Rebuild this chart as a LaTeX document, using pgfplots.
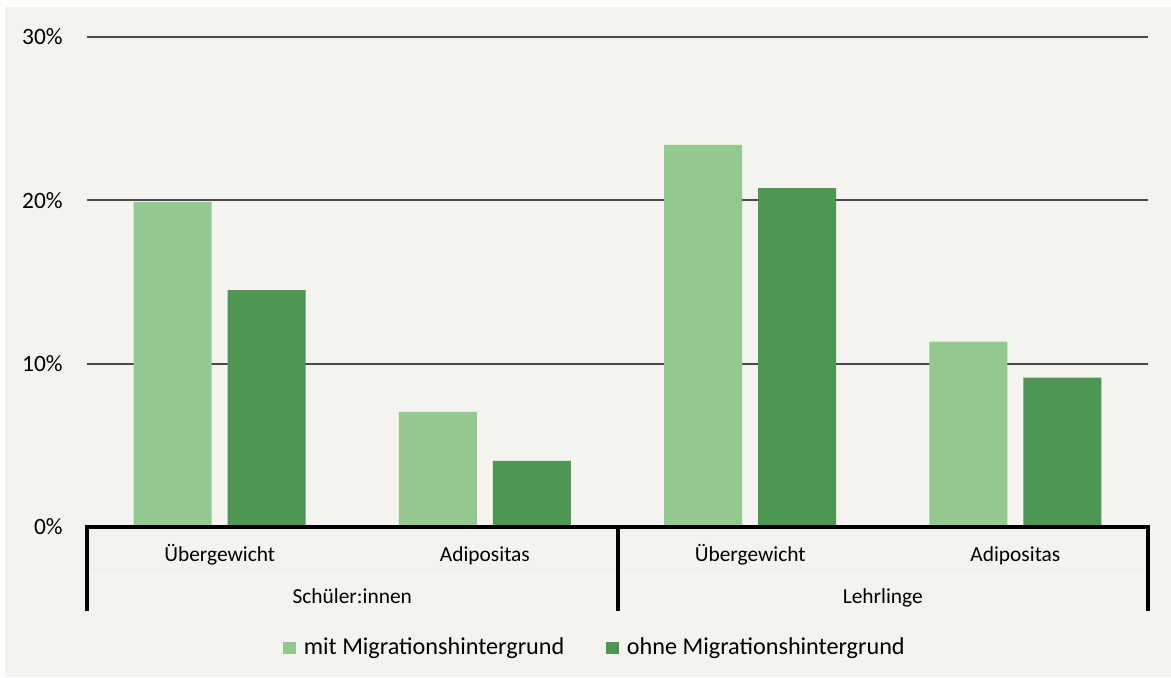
\documentclass[border=0pt]{standalone}
\usepackage{pgfplots}
\pgfplotsset{compat=1.18}
\usepackage{fontspec}
\setmainfont{Carlito}

\definecolor{bg}{HTML}{F4F3EF}
\definecolor{hell}{HTML}{93C98E}
\definecolor{dunkel}{HTML}{4E9753}
\definecolor{gitter}{HTML}{4A4A4A}

\tikzset{lab/.style={anchor=base, font=\fontsize{10.7}{12}\selectfont, inner sep=0pt}}

\begin{document}
\begin{tikzpicture}
  % 1 px = 0.5 pt
  \useasboundingbox (0,0) rectangle (585.5pt,339pt);
  \fill[white] (0,0) rectangle (585.5pt,339pt);
  \fill[bg] (2.5pt,0.5pt) rectangle (585.5pt,335.5pt);

  \begin{axis}[
      at={(43.5pt,75.5pt)}, anchor=south west,
      scale only axis, width=530.5pt, height=245pt,
      xmin=0, xmax=4, ymin=0, ymax=30,
      axis line style={draw=none},
      clip=false,
      ybar=8pt, bar width=39pt,
      xtick=\empty,
      ytick={0,10,20,30},
      yticklabels={0\%,10\%,20\%,30\%},
      major tick length=0pt,
      /pgf/number format/assume math mode=true,
      yticklabel style={font=\fontsize{11.7}{13}\selectfont, inner sep=0pt, xshift=-12pt, anchor=east},
      ymajorgrids,
      grid style={gitter, line width=0.85pt},
      legend columns=2,
      legend style={draw=none, fill=none, at={(0.4797,-0.247)}, anchor=center,
                    font=\fontsize{12.1}{14}\selectfont,
                    /tikz/every even column/.append style={column sep=19pt}},
      legend image code/.code={\fill[#1] (0pt,-3.2pt) rectangle (6.5pt,3.2pt); \path (8.3pt,0pt);},
    ]
    \addplot[fill=hell, draw=none] coordinates {(0.5,19.9) (1.5,7.05) (2.5,23.4) (3.5,11.35)};
    \addplot[fill=dunkel, draw=none] coordinates {(0.5,14.5) (1.5,4.05) (2.5,20.75) (3.5,9.15)};
    \legend{mit Migrationshintergrund, ohne Migrationshintergrund}

    % Kategorienachse
    \draw[color={rgb,255:red,236;green,235;blue,231}, line width=0.4pt] (axis cs:0,-2.6) -- (axis cs:4,-2.6);
    \draw[black, line width=2pt, line join=miter] (axis cs:0,-5.14) -- (axis cs:0,0) -- (axis cs:4,0) -- (axis cs:4,-5.14);
    \draw[black, line width=2pt] (axis cs:2,0) -- (axis cs:2,-5.14);

    \node[lab] at (axis cs:0.5,0) [yshift=-17.5pt] {Übergewicht};
    \node[lab] at (axis cs:1.5,0) [yshift=-17.5pt] {Adipositas};
    \node[lab] at (axis cs:2.5,0) [yshift=-17.5pt] {Übergewicht};
    \node[lab] at (axis cs:3.5,0) [yshift=-17.5pt] {Adipositas};
    \node[lab] at (axis cs:1,0) [yshift=-38.5pt] {Schüler:innen};
    \node[lab] at (axis cs:3,0) [yshift=-38.5pt] {Lehrlinge};
  \end{axis}
\end{tikzpicture}
\end{document}
